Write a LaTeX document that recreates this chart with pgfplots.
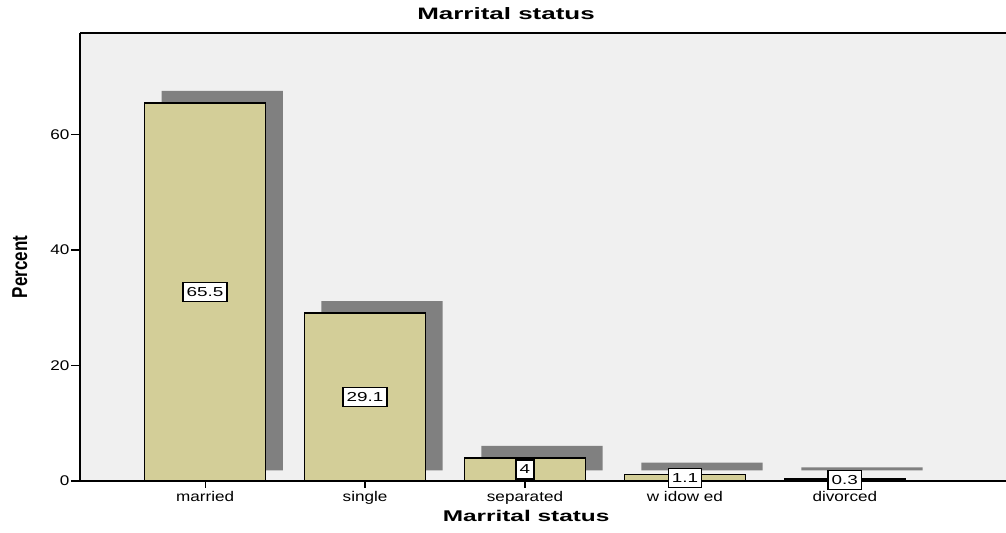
\documentclass[border=0pt]{standalone}
\usepackage{pgfplots}
\usepackage{pgfplotstable}
\pgfplotsset{compat=1.18}
\usepackage{fontspec}
\setmainfont{Liberation Sans}
\newfontfamily\tickfont[FakeStretch=1.22]{Liberation Sans}
\newfontfamily\valfont[FakeStretch=1.45]{Liberation Sans}
\newfontfamily\titlefont[FakeStretch=1.57]{Liberation Sans}
\newfontfamily\ylabfont[FakeStretch=0.79]{Liberation Sans}
\definecolor{barfill}{RGB}{211,206,152}
\definecolor{shadowgray}{RGB}{128,128,128}
\definecolor{bggray}{RGB}{240,240,240}
\pgfplotstableread{
x y lab
0 65.5 65.5
1 29.1 29.1
2 4.0 4
3 1.1 1.1
4 0.3 0.3
}\marital
\begin{document}
\begin{tikzpicture}
\begin{axis}[
  scale only axis, width=926pt, height=447pt,
  xmin=-0.78125, xmax=5.02,
  ymin=0, ymax=77.6,
  axis x line*=box, axis y line*=left,
  axis line style={line width=1.5pt, black},
  axis background/.style={fill=bggray},
  clip=false,
  tick align=outside,
  xtick pos=left, ytick pos=left,
  xtick={0,1,2,3,4},
  xticklabels={married,single,separated,w idow ed,divorced},
  ytick={0,20,40,60},
  major tick length=9pt,
  xtick style={/pgfplots/major tick length=7pt},
  tick style={line width=1.2pt, black},
  /pgf/number format/assume math mode=true,
  ticklabel style={font=\tickfont\fontsize{14pt}{14pt}\selectfont, inner sep=1.5pt},
  title={Marrital status},
  title style={font=\titlefont\bfseries\fontsize{16.5pt}{16.5pt}\selectfont,
    at={(axis description cs:0.459,1)}, anchor=base, yshift=8pt},
  xlabel={Marrital status},
  xlabel style={font=\titlefont\bfseries\fontsize{15.5pt}{15.5pt}\selectfont,
    at={(axis description cs:0.4806,0)}, anchor=base, yshift=-40pt},
  ylabel={Percent},
  ylabel style={font=\ylabfont\bfseries\fontsize{21.5pt}{21.5pt}\selectfont,
    at={(axis description cs:0,0.4776)}, anchor=base, yshift=53pt},
]
% shadows
\addplot[ybar, bar width=121pt, bar shift=17pt, fill=shadowgray, draw=none, yshift=10.5pt]
  table[x=x, y expr=\thisrow{y}+0.25] {\marital};
% bars
\addplot[ybar, bar width=121pt, bar shift=0pt, fill=barfill, draw=black, line width=1.5pt]
  table[x=x, y=y] {\marital};
% value labels
\addplot[draw=none, nodes near coords, point meta=explicit symbolic,
  every node near coord/.append style={anchor=center, fill=white, draw=black,
    line width=1.5pt, font=\valfont\fontsize{13pt}{13pt}\selectfont,
    inner xsep=3.5pt, inner ysep=5pt}]
  table[x=x, y expr=\thisrow{y}/2, meta=lab] {\marital};
\end{axis}
\pgfresetboundingbox
\path ([shift={(-80pt,-51pt)}]current axis.south west) rectangle ([shift={(-2pt,33pt)}]current axis.north east);
\end{tikzpicture}
\end{document}
